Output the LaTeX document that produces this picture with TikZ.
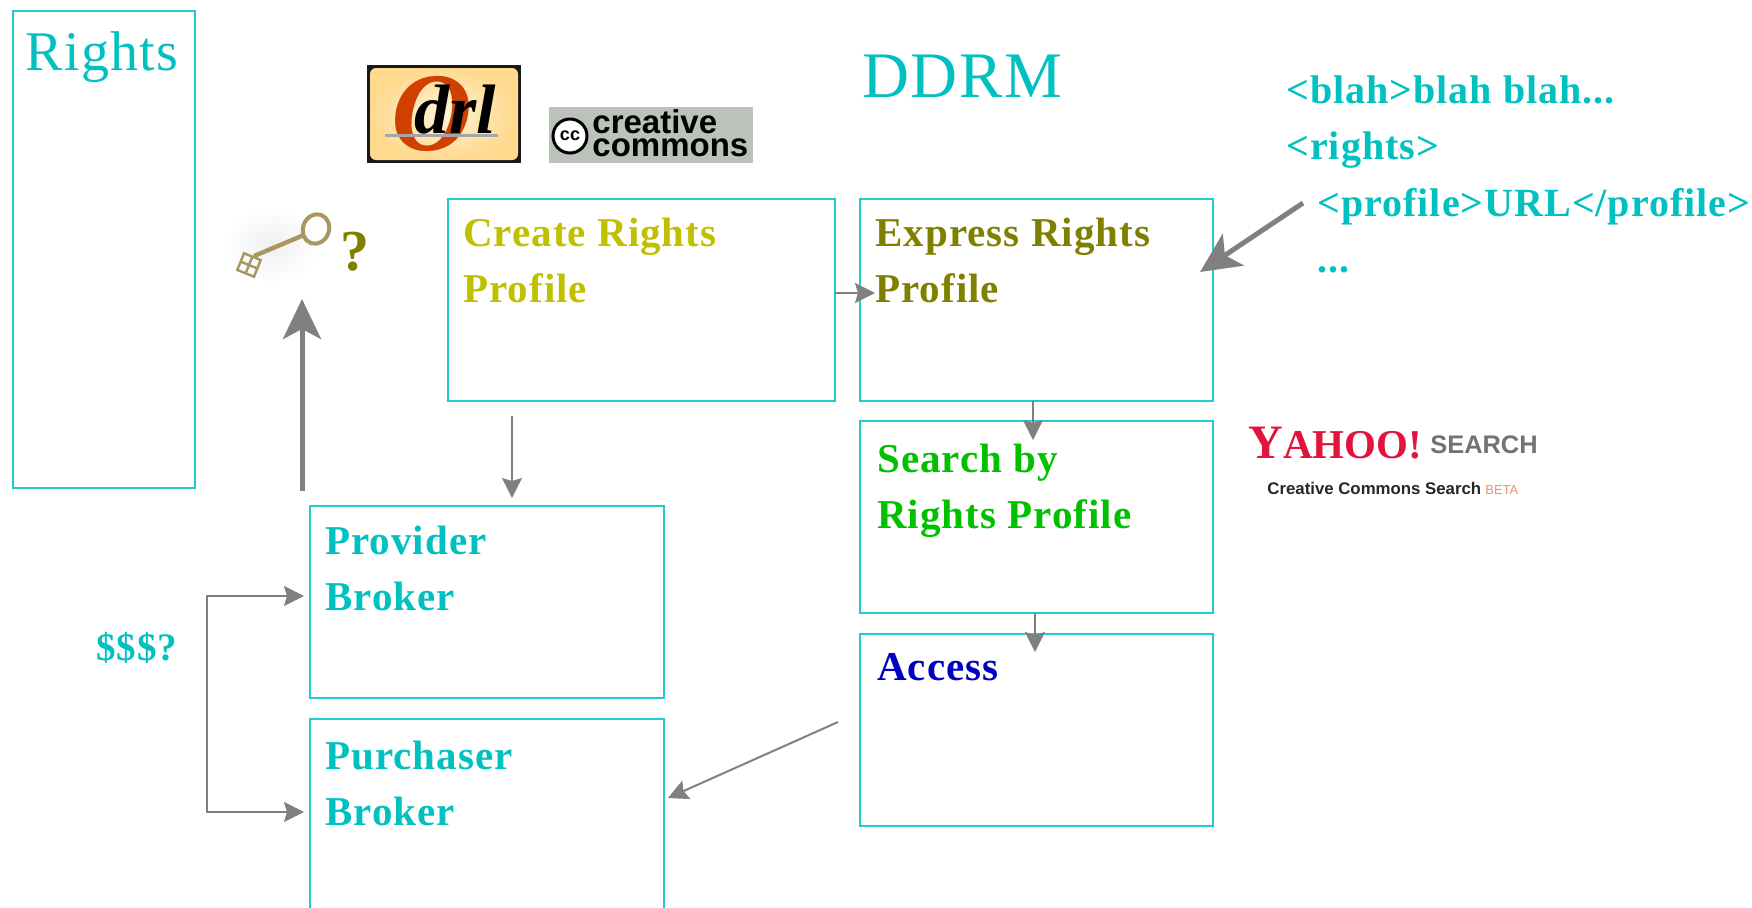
\documentclass[tikz,border=0pt]{standalone}
\usepackage{fontspec}
\setmainfont[LetterSpace=2.5]{Liberation Serif}
\newfontfamily\plainserif{Liberation Serif}
\newfontfamily\logosans{Liberation Sans}
\usetikzlibrary{arrows.meta,shapes.geometric}
\definecolor{boxline}{HTML}{22CCCC}
\definecolor{teal}{HTML}{00C0C0}
\definecolor{ctea}{HTML}{C0C000}
\definecolor{colive}{HTML}{808000}
\definecolor{cgreen}{HTML}{00C000}
\definecolor{cblue}{HTML}{0000C0}
\definecolor{arrowgray}{HTML}{808080}
\definecolor{odrlred}{HTML}{D04000}
\definecolor{odrlin}{HTML}{FFF3D8}
\definecolor{odrlout}{HTML}{FFD98E}
\definecolor{ccgray}{HTML}{BAC2BA}
\definecolor{keybrown}{HTML}{A89860}
\definecolor{yahoored}{HTML}{E0143C}
\definecolor{betac}{HTML}{F0906A}
\tikzset{
  box/.style={draw=boxline,line width=1pt,anchor=north west,inner sep=0pt,outer sep=0pt},
  lbl/.style={anchor=north west,inner sep=0pt,align=left,font=\bfseries\fontsize{20.5}{28}\selectfont},
  thin arrow/.style={draw=arrowgray,line width=1pt,-{Stealth[length=10pt,width=10pt,inset=1.5pt]}},
  big arrow/.style={draw=arrowgray,line width=2.5pt,-{Stealth[length=20pt,width=19pt,inset=5pt]}},
}
\begin{document}
\begin{tikzpicture}[x=0.5pt,y=-0.5pt]
\clip (0,0) rectangle (1752,907);
% boxes
\node[box,minimum width=91pt,minimum height=238.5pt] (rights) at (12.5,10.5) {};
\node[box,minimum width=193.5pt,minimum height=101pt] (create) at (447.5,198.5) {};
\node[box,minimum width=176.5pt,minimum height=101pt] (express) at (859.5,198.5) {};
\node[box,minimum width=176.5pt,minimum height=96pt] (search) at (859.5,420.5) {};
\node[box,minimum width=176.5pt,minimum height=96pt] (access) at (859.5,634) {};
\node[box,minimum width=177pt,minimum height=96pt] (provider) at (309.5,505.5) {};
\node[box,minimum width=177pt,minimum height=110pt] (purchaser) at (309.5,718.5) {};
% labels
\node[lbl,text=teal,font=\mdseries\fontsize{28}{30}\selectfont] (rightst) at (25,31) {Rights};
\node[lbl,text=ctea] (createt) at (463,218) {Create Rights\\Profile};
\node[lbl,text=colive] (expresst) at (875,218) {Express Rights\\Profile};
\node[lbl,text=cgreen] (searcht) at (877,444) {Search by\\Rights Profile};
\node[lbl,text=cblue] (accesst) at (877,653) {Access};
\node[lbl,text=teal] (providert) at (325,526) {Provider\\Broker};
\node[lbl,text=teal] (purchasert) at (325,741) {Purchaser\\Broker};
\node[lbl,text=teal,font=\mdseries\fontsize{32.5}{36}\selectfont] (ddrm) at (862,55) {DDRM};
\node[lbl,text=teal,font=\bfseries\fontsize{19.5}{28}\selectfont] (dollars) at (96,632) {\$\$\$?};
\node[lbl,text=colive,font=\bfseries\fontsize{29}{30}\selectfont] (question) at (340,232) {?};
\node[lbl,text=teal,font=\bfseries\fontsize{20}{28}\selectfont] (xmla) at (1286,75) {<blah>blah blah...\\<rights>};
\node[lbl,text=teal,font=\bfseries\fontsize{20}{28}\selectfont] (xmlb) at (1317,188) {<profile>URL</profile>\\...};
% connectors
\coordinate (c1) at (875,293);
\coordinate (c2a) at (1033,440);
\coordinate (c3a) at (1035,652);
\coordinate (c4s) at (512,416);
\coordinate (c4e) at (512,498);
\coordinate (c5s) at (838,722);
\coordinate (c5e) at (668,798);
\coordinate (c6a) at (304,596);
\coordinate (c6b) at (207,596);
\coordinate (c6c) at (207,812);
\coordinate (c6d) at (304,812);
\coordinate (c7s) at (302,491);
\coordinate (c7e) at (302,299);
\coordinate (c8s) at (1303,203);
\coordinate (c8e) at (1200,272);
\draw[thin arrow] (create.east |- c1) -- (c1);
\draw[thin arrow] (express.south -| c2a) -- (c2a);
\draw[thin arrow] (search.south -| c3a) -- (c3a);
\draw[thin arrow] (c4s) -- (c4e);
\draw[thin arrow] (c5s) -- (c5e);
\draw[thin arrow,{Stealth[length=10pt,width=10pt,inset=1.5pt]}-{Stealth[length=10pt,width=10pt,inset=1.5pt]}] (c6a) -- (c6b) -- (c6c) -- (c6d);
\draw[big arrow] (c7s) -- (c7e);
\draw[big arrow] (c8s) -- (c8e);
% odrl logo
\fill[black!90] (367,65) rectangle (521,163);
\shade[inner color=odrlin,outer color=odrlout,rounded corners=3pt] (370,68) rectangle (518,160);
\node[inner sep=0pt,text=odrlred,font=\plainserif\fontsize{56}{56}\selectfont\itshape\bfseries] (odrlo) at (432,114) {O};
\draw[black!35,line width=1.5pt] (385,135) -- (498,135);
\node[anchor=base,inner sep=0pt,text=black,font=\plainserif\fontsize{35}{35}\selectfont\itshape\bfseries] (odrlt) at (455,133) {drl};
% cc logo
\fill[ccgray] (549,107) rectangle (753,163);
\node[circle,draw=black,line width=1.5pt,fill=white,minimum size=17pt,inner sep=0pt,font=\logosans\fontsize{9}{9}\selectfont\bfseries] (cclogo) at (570,136) {cc};
\node[anchor=base west,inner sep=0pt,font=\logosans\fontsize{16.5}{16.5}\selectfont\bfseries] (cca) at (592,133) {creative};
\node[anchor=base west,inner sep=0pt,font=\logosans\fontsize{16.5}{16.5}\selectfont\bfseries] (ccb) at (592,156) {commons};
% key
\shade[inner color=black!6,outer color=white] (272,245) ellipse (48 and 38);
\draw[keybrown,line width=2pt,rotate around={-20:(316,229)}] (316,229) ellipse (13 and 15);
\draw[keybrown,line width=2.2pt] (304,235) -- (254,256);
\begin{scope}[rotate around={-22:(249,265)},keybrown,line width=1.2pt]
\draw (240,256) rectangle (258,274);
\draw (249,256) -- (249,274) (240,265) -- (258,265);
\end{scope}
% yahoo
\node[anchor=base west,inner sep=0pt,text=yahoored,font=\plainserif\fontsize{24}{24}\selectfont\bfseries] (yahoo) at (1248,458) {Y{\fontsize{20.5}{20}\selectfont AHOO!}};
\node[anchor=base west,inner sep=0pt,text=black!55,font=\logosans\fontsize{12.7}{12.7}\selectfont\bfseries] (ysearch) at (1430,453) {SEARCH};
\node[anchor=base west,inner sep=0pt,text=black!85,font=\logosans\fontsize{8.4}{8.4}\selectfont\bfseries] (ycc) at (1267,494) {Creative Commons Search};
\node[anchor=base west,inner sep=0pt,text=betac,font=\logosans\fontsize{6.5}{6.5}\selectfont] (ybeta) at (1485,494) {BETA};
\end{tikzpicture}
\end{document}
